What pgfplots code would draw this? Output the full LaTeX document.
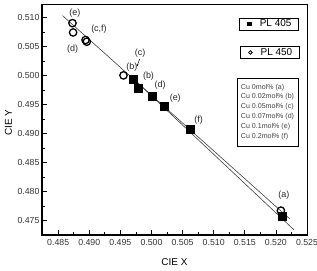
\documentclass[border=0pt]{standalone}
\usepackage{fontspec}
\setmainfont{Liberation Sans}
\usepackage{pgfplots}
\pgfplotsset{compat=1.18}
\usetikzlibrary{arrows.meta}

\definecolor{fitline}{gray}{0.25}
\definecolor{ticktext}{gray}{0.2}

\pgfplotsset{
  cieaxis/.style={
    at={(42bp,36bp)}, anchor=south west,
    scale only axis, width=265bp, height=231bp,
    xmin=0.4824, xmax=0.525, ymin=0.4725, ymax=0.5123,
    clip=false,
  },
  smalllegend/.style={
    legend image code/.code={%
      \path[draw=none, fill=none] (-4bp,-1bp) rectangle (9bp,1bp);
      \draw[##1, mark size=1.8bp, line width=0.8bp] plot coordinates {(0bp,0bp)};},
    legend style={draw=black, line width=0.5bp, fill=white, anchor=center,
      font=\fontsize{10}{11}\selectfont, inner xsep=6bp, inner ysep=0.6bp,
      nodes={inner sep=1.2bp}, /tikz/every even column/.append style={column sep=0bp}},
  },
}

\begin{document}
\begin{tikzpicture}
\useasboundingbox (0,0) rectangle (317bp,271bp);

% Main axis: frame, fit lines, PL 450 points and the labels
\begin{axis}[cieaxis, smalllegend,
  axis line style={line width=0.8bp},
  tick align=inside, xtick pos=bottom, ytick pos=left,
  major tick length=4.5bp, minor tick length=2.5bp,
  every tick/.style={black, line width=0.7bp},
  xtick={0.485,0.490,...,0.5251}, ytick={0.475,0.480,...,0.5101},
  minor x tick num=1, minor y tick num=1,
  /pgf/number format/assume math mode=true,
  /pgf/number format/.cd, fixed, fixed zerofill, precision=3, /pgfplots/.cd,
  ticklabel style={font=\fontsize{8.8}{9}\selectfont, text=ticktext},
  xticklabel style={yshift=-1bp},
  yticklabel style={xshift=1bp},
  xlabel={CIE X}, ylabel={CIE Y},
  label style={font=\fontsize{10}{11}\selectfont},
  xlabel style={at={(axis description cs:0.5,-0.1156)}, anchor=center},
  ylabel style={at={(axis description cs:-0.127,0.487)}, anchor=center},
  legend style={at={(rel axis cs:0.860,0.790)}},
]
% linear fits
\addplot[fitline, line width=0.6bp, forget plot] coordinates {(0.4857,0.5103) (0.5222,0.4753)};
\addplot[fitline, line width=0.6bp, forget plot] coordinates {(0.4970,0.4995) (0.5229,0.4734)};
% PL 450 (a)-(f)
\addplot[only marks, mark=o, mark size=3.7bp, line width=1.3bp, black, mark options={fill=white}]
  coordinates {(0.5208,0.4767) (0.4955,0.5000) (0.4894,0.5061) (0.4874,0.5074) (0.4873,0.5090) (0.4896,0.5058)};
\addlegendentry{PL 450}

\begin{scope}[font=\fontsize{9}{10}\selectfont, text=black!85]
\node at (axis cs:0.48769,0.51079) {(e)};
\node at (axis cs:0.48732,0.50449) {(d)};
\node at (axis cs:0.49156,0.50793) {(c,f)};
\node at (axis cs:0.49818,0.50380) {(c)};
\node at (axis cs:0.49684,0.50133) {(b)};
\node at (axis cs:0.49952,0.49978) {(b)};
\node at (axis cs:0.50140,0.49823) {(d)};
\node at (axis cs:0.50382,0.49606) {(e)};
\node at (axis cs:0.50758,0.49232) {(f)};
\node at (axis cs:0.52129,0.47929) {(a)};
\end{scope}
\draw[-{Stealth[length=2.5bp,width=2bp]}, line width=0.5bp] (axis cs:0.49810,0.50282) -- (axis cs:0.49765,0.50153);

% composition key
\node[draw=black, line width=0.5bp, fill=white, align=left, text=black!75,
      font=\fontsize{7.1}{10}\selectfont, minimum width=61bp, minimum height=68bp,
      inner xsep=3bp]
  at (rel axis cs:0.851,0.532)
  {Cu 0mol\% (a)\\Cu 0.02mol\% (b)\\Cu 0.05mol\% (c)\\Cu 0.07mol\% (d)\\Cu 0.1mol\% (e)\\Cu 0.2mol\% (f)};

% heavier left and bottom spines
\draw[line width=1.5bp] (rel axis cs:0,1) -- (rel axis cs:0,0) -- (rel axis cs:1,0);
\end{axis}

% Overlay axis: PL 405 points with their own key
\begin{axis}[cieaxis, smalllegend, hide axis,
  legend style={at={(rel axis cs:0.857,0.913)}},
]
\addplot[only marks, mark=square*, mark size=4bp, black]
  coordinates {(0.5210,0.4757) (0.4979,0.4978) (0.4970,0.4994) (0.5001,0.4965) (0.5020,0.4947) (0.5062,0.4908)};
\addlegendentry{PL 405}
\end{axis}
\end{tikzpicture}
\end{document}
